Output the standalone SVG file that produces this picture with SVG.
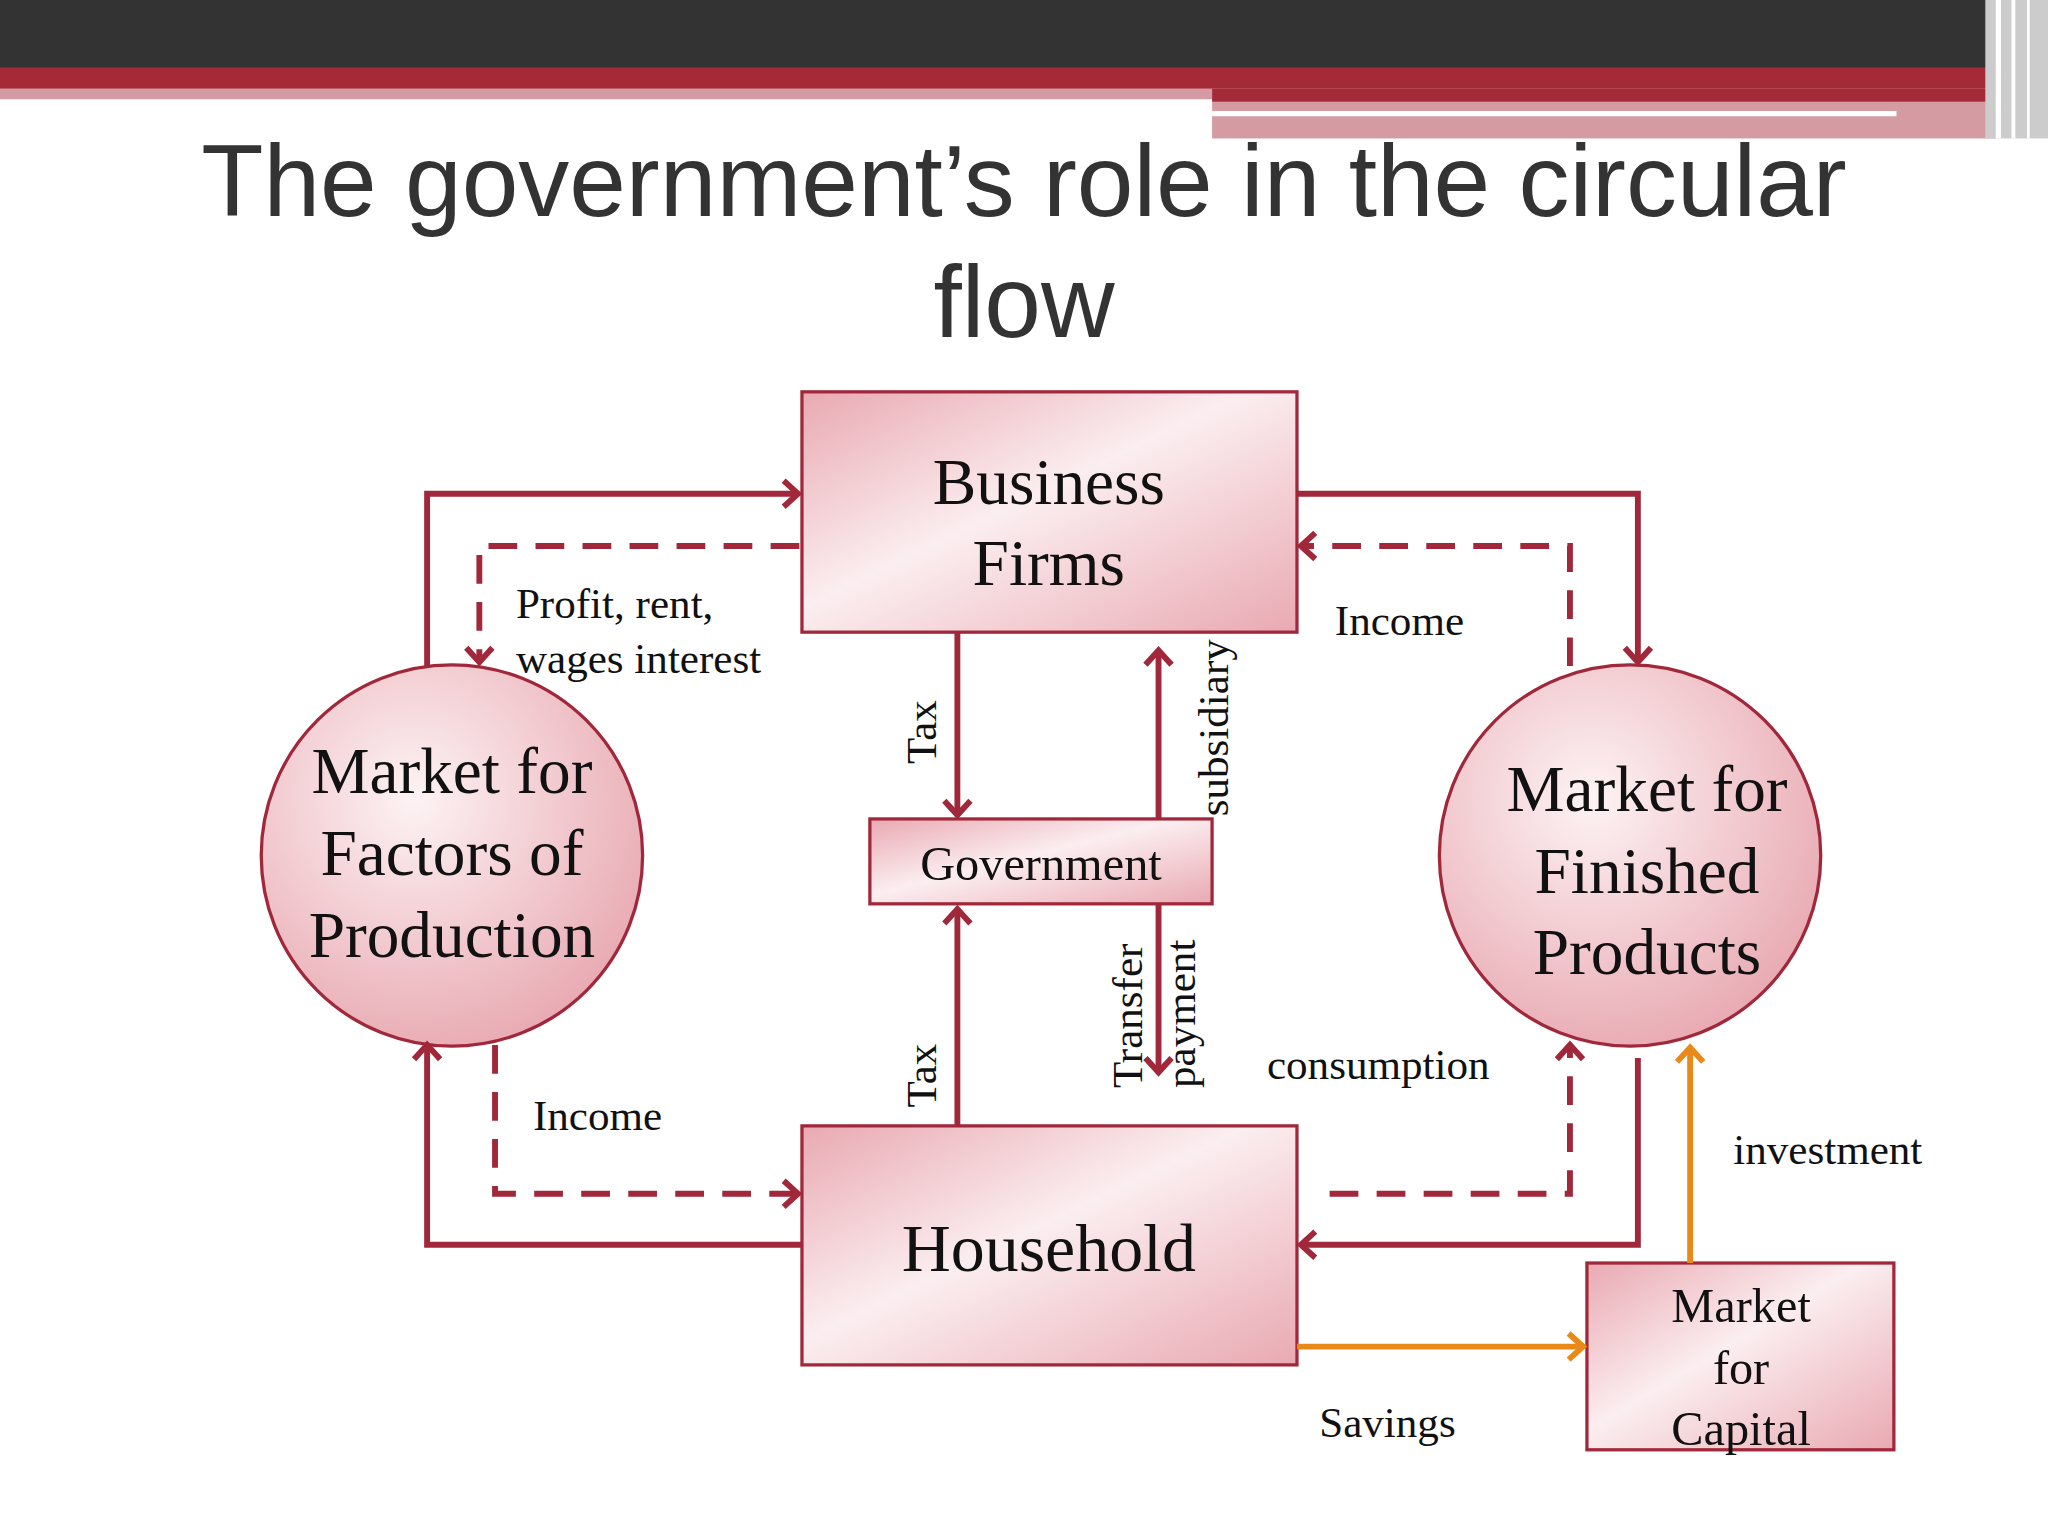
<svg xmlns="http://www.w3.org/2000/svg" width="2048" height="1536" viewBox="0 0 2048 1536">
<defs>
<linearGradient id="pg" x1="0" y1="0" x2="1" y2="1">
<stop offset="0" stop-color="#e9a9b2"/><stop offset="0.45" stop-color="#fbeef0"/><stop offset="1" stop-color="#e9a9b2"/>
</linearGradient>
<radialGradient id="cg" cx="0.4" cy="0.35" r="0.7">
<stop offset="0" stop-color="#fdf3f4"/><stop offset="1" stop-color="#e8a8b1"/>
</radialGradient>
</defs>
<style>
.n{fill:url(#pg);stroke:#a0283a;stroke-width:2.5}
.c{fill:url(#cg);stroke:#a0283a;stroke-width:2.5}
.l{fill:none;stroke:#a0283a;stroke-width:4.5}
.d{fill:none;stroke:#a0283a;stroke-width:4.5;stroke-dasharray:22 14}
.o{fill:none;stroke:#e88a1a;stroke-width:4.5}
.a{fill:none;stroke:#a0283a;stroke-width:4.5;stroke-linejoin:miter}
.ao{fill:none;stroke:#e88a1a;stroke-width:4.5}
.t{font-family:"Liberation Serif",serif;fill:#111;text-anchor:middle}
.s{font-family:"Liberation Serif",serif;fill:#111;font-size:33px}
</style>
<rect width="2048" height="1536" fill="#fff"/>
<g transform="scale(1.30612)">
<rect x="0" y="0" width="1568" height="52" fill="#333"/>
<rect x="0" y="52" width="1568" height="16" fill="#a52a38"/>
<rect x="0" y="68" width="928" height="8" fill="#d49ba2"/>
<rect x="928" y="68" width="640" height="10" fill="#a52a38"/>
<rect x="928" y="78" width="600" height="28" fill="#d49ba2"/>
<rect x="928" y="85" width="524" height="4" fill="#fff"/>
<rect x="1520" y="0" width="48" height="106" fill="#ccc"/>
<rect x="1528" y="0" width="4" height="106" fill="#fff"/>
<rect x="1540" y="0" width="3" height="106" fill="#fff"/>
<rect x="1552" y="0" width="2" height="106" fill="#fff"/>
<text x="784" y="165" font-family="Liberation Sans,sans-serif" font-size="78" fill="#333" text-anchor="middle">The government’s role in the circular</text>
<text x="784" y="258" font-family="Liberation Sans,sans-serif" font-size="78" fill="#333" text-anchor="middle">flow</text>

<g id="business"><rect class="n" x="614" y="300" width="379" height="184"/>
<text class="t" x="803" y="386" font-size="50">Business</text><text class="t" x="803" y="448" font-size="50">Firms</text></g>
<g id="government"><rect class="n" x="666" y="627" width="262" height="65"/>
<text class="t" x="797" y="674" font-size="37">Government</text></g>
<g id="household"><rect class="n" x="614" y="862" width="379" height="183"/>
<text class="t" x="803" y="973" font-size="52">Household</text></g>
<g id="capital"><rect class="n" x="1215" y="967" width="235" height="143"/>
<text class="t" x="1333" y="1012" font-size="37">Market</text><text class="t" x="1333" y="1060" font-size="37">for</text><text class="t" x="1333" y="1106" font-size="37">Capital</text></g>
<g id="factors"><circle class="c" cx="346" cy="655" r="146"/>
<text class="t" x="346" y="607" font-size="50">Market for</text><text class="t" x="346" y="670" font-size="50">Factors of</text><text class="t" x="346" y="733" font-size="50">Production</text></g>
<g id="finished"><circle class="c" cx="1248" cy="655" r="146"/>
<text class="t" x="1261" y="621" font-size="50">Market for</text><text class="t" x="1261" y="684" font-size="50">Finished</text><text class="t" x="1261" y="746" font-size="50">Products</text></g>

<g id="connectors">
<path class="l" d="M327,510 V378 H610"/><path class="a" d="M600,368 L611,378 L600,388"/>
<path class="d" d="M612,418 H367 V506"/><path class="a" d="M357,496 L367,507 L377,496"/>
<path class="l" d="M993,378 H1254 V506"/><path class="a" d="M1244,496 L1254,507 L1264,496"/>
<path class="d" d="M1202,510 V418 H997"/><path class="a" d="M1007,408 L996,418 L1007,428"/>
<path class="l" d="M733,484 V623"/><path class="a" d="M723,613 L733,624 L743,613"/>
<path class="l" d="M887,627 V499"/><path class="a" d="M877,509 L887,498 L897,509"/>
<path class="l" d="M887,692 V820"/><path class="a" d="M877,810 L887,821 L897,810"/>
<path class="l" d="M733,862 V697"/><path class="a" d="M723,707 L733,696 L743,707"/>
<path class="l" d="M614,953 H327 V801"/><path class="a" d="M317,811 L327,800 L337,811"/>
<path class="d" d="M379,800 V914 H610"/><path class="a" d="M600,904 L611,914 L600,924"/>
<path class="d" d="M1018,914 H1202 V801"/><path class="a" d="M1192,811 L1202,800 L1212,811"/>
<path class="l" d="M1254,810 V953 H997"/><path class="a" d="M1007,943 L996,953 L1007,963"/>
<path class="o" d="M993,1031 H1211"/><path class="ao" d="M1201,1021 L1212,1031 L1201,1041"/>
<path class="o" d="M1294,967 V803"/><path class="ao" d="M1284,813 L1294,802 L1304,813"/>
</g>

<text class="s" x="395" y="473">Profit, rent,</text>
<text class="s" x="395" y="515">wages interest</text>
<text class="s" x="1022" y="486">Income</text>
<text class="s" x="408" y="865">Income</text>
<text class="s" x="970" y="826">consumption</text>
<text class="s" x="1327" y="891">investment</text>
<text class="s" x="1010" y="1100">Savings</text>
<text class="s" transform="translate(717,585) rotate(-90)" font-size="44">Tax</text>
<text class="s" transform="translate(717,848) rotate(-90)" font-size="44">Tax</text>
<text class="s" transform="translate(940,625) rotate(-90)" font-size="29">subsidiary</text>
<text class="s" transform="translate(874,833) rotate(-90)">Transfer</text>
<text class="s" transform="translate(915,833) rotate(-90)">payment</text>
</g>
</svg>
